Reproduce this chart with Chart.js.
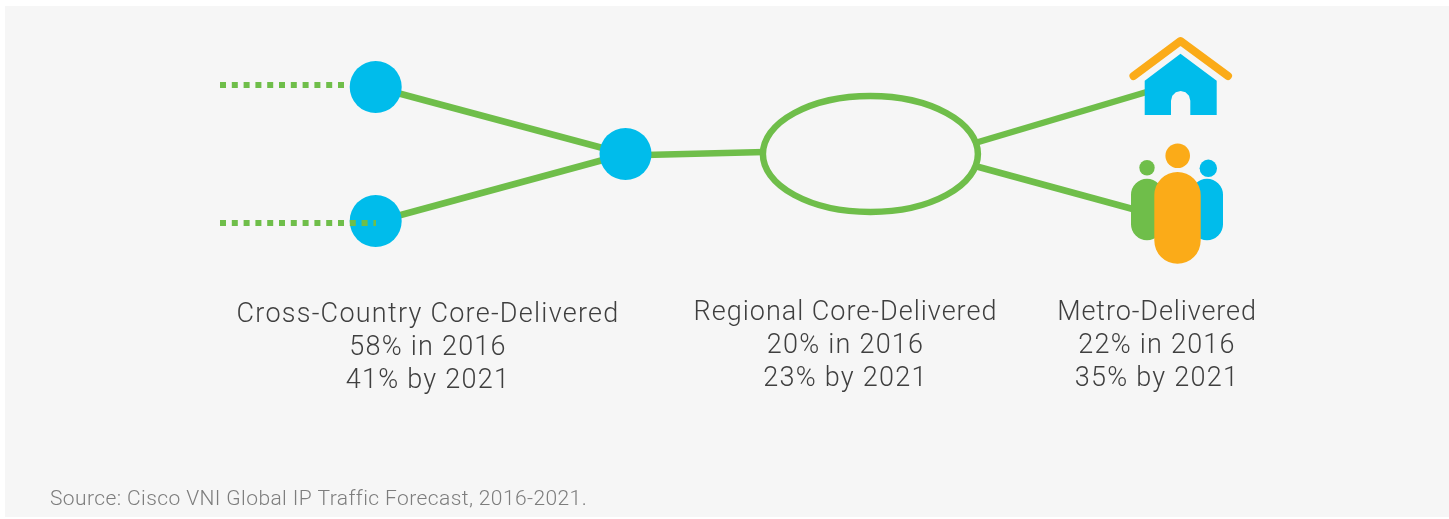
<!DOCTYPE html>
<html>
<head>
<meta charset="utf-8">
<title>Traffic delivery</title>
<script src="https://cdn.jsdelivr.net/npm/chart.js@4"></script>
<style>
html, body { margin: 0; padding: 0; background: #fff; }
#panel { position: absolute; left: 5px; top: 6px; width: 1444px; height: 511px; background: #f6f6f6; }
#wrap { position: absolute; left: 0; top: 0; width: 1449px; height: 519px; }
</style>
</head>
<body>
<div id="panel"></div>
<div id="wrap"><canvas id="diagram"></canvas></div>
<script>
// links between the nodes
const linkTop = [{x: 375, y: 87}, {x: 625, y: 154}];
const linkBottom = [{x: 375, y: 222}, {x: 625, y: 154}];
const linkRing = [{x: 625, y: 155.5}, {x: 765, y: 152}];
const linkHome = [{x: 975, y: 143}, {x: 1150, y: 91}];
const linkPeople = [{x: 975, y: 166}, {x: 1140, y: 211}];
const dottedTop = [{x: 220, y: 85}, {x: 346, y: 85}];
const dottedBottom = [{x: 220, y: 223}, {x: 376, y: 223}];
const nodes = [{x: 375.7, y: 87}, {x: 375.7, y: 221}, {x: 625.5, y: 154}];
const ringCentre = [{x: 870, y: 154}];

// house
const roof = [{x: 1133.5, y: 76}, {x: 1180.5, y: 41}, {x: 1228, y: 76}];
const house = [
    {x: 1144.7, y: 115}, {x: 1144.7, y: 80.7}, {x: 1180.5, y: 53.7}, {x: 1216.7, y: 80.7},
    {x: 1216.7, y: 115}, {x: 1190.3, y: 115}, {x: 1190.3, y: 100.7}, {x: 1189, y: 95.8},
    {x: 1185.5, y: 92.3}, {x: 1180.7, y: 91}, {x: 1175.8, y: 92.3}, {x: 1172.3, y: 95.8},
    {x: 1171, y: 100.7}, {x: 1171, y: 115}, {x: 1144.7, y: 115}
];

// people
const bodyGreen = [{x: 1147, y: 194.7}, {x: 1147, y: 224.3}];
const bodyBlue = [{x: 1207, y: 194.7}, {x: 1207, y: 224.3}];
const bodyOrange = [{x: 1177.5, y: 195.2}, {x: 1177.5, y: 240.5}];
const headGreen = [{x: 1147, y: 167.7}];
const headBlue = [{x: 1208.3, y: 168.3}];
const headOrange = [{x: 1177.7, y: 155.7}];

// texts
const crossCountry = ['Cross-Country Core-Delivered', '58% in 2016', '41% by 2021'];
const regional = ['Regional Core-Delivered', '20% in 2016', '23% by 2021'];
const metro = ['Metro-Delivered', '22% in 2016', '35% by 2021'];
const source = 'Source: Cisco VNI Global IP Traffic Forecast, 2016-2021.';

const GREEN = '#6fbe4a';
const BLUE = '#00bceb';
const ORANGE = '#fbab18';

const link = (data, width, color, extra) => Object.assign({
    data: data, showLine: true, borderColor: color, borderWidth: width, pointRadius: 0, fill: false
}, extra || {});

const dot = (data, radius, color, order) => ({
    data: data, showLine: false, pointRadius: radius, pointBackgroundColor: color, pointBorderWidth: 0, order: order
});

// ring marker, the library has no ellipse point style
const ringImage = document.createElement('canvas');
ringImage.width = 226;
ringImage.height = 126;
const rc = ringImage.getContext('2d');
rc.strokeStyle = GREEN;
rc.lineWidth = 6.5;
rc.beginPath();
rc.ellipse(113.4, 63, 107.5, 58, 0, 0, Math.PI * 2);
rc.stroke();

const textBlocks = {
    id: 'textBlocks',
    afterDatasetsDraw(chart) {
        const ctx = chart.ctx;
        const xs = chart.scales.x, ys = chart.scales.y;
        const block = (lines, x, y, titleSpacing) => {
            lines.forEach((s, i) => {
                ctx.letterSpacing = i == 0 ? titleSpacing : '1.25px';
                ctx.fillText(s, xs.getPixelForValue(x), ys.getPixelForValue(y + i * 33));
            });
        };
        ctx.save();
        ctx.textBaseline = 'alphabetic';
        ctx.textAlign = 'center';
        ctx.fillStyle = '#3f3f3f';
        ctx.font = '300 27px Roboto';
        block(crossCountry, 428, 322, '1.25px');
        block(regional, 845.5, 320, '1px');
        block(metro, 1157, 320, '0.9px');
        ctx.textAlign = 'left';
        ctx.fillStyle = '#7d7d7d';
        ctx.font = '300 21px Roboto';
        ctx.letterSpacing = '0.4px';
        ctx.fillText(source, xs.getPixelForValue(50), ys.getPixelForValue(505));
        ctx.restore();
    }
};

new Chart(document.getElementById('diagram'), {
    type: 'scatter',
    plugins: [textBlocks],
    data: {
        datasets: [
            link(linkTop, 6.5, GREEN, {order: 9}),
            link(linkBottom, 6.5, GREEN, {order: 9}),
            link(linkRing, 6.5, GREEN, {order: 9}),
            link(linkHome, 6.5, GREEN, {order: 9}),
            link(linkPeople, 6.5, GREEN, {order: 9}),
            dot(nodes, 26, BLUE, 8),
            link(dottedTop, 6, GREEN, {borderDash: [6, 5.8], order: 7}),
            link(dottedBottom, 6, GREEN, {borderDash: [6, 5.8], order: 7}),
            {data: ringCentre, showLine: false, pointStyle: ringImage, order: 7},
            link(house, 0, BLUE, {fill: 'shape', backgroundColor: BLUE, order: 6}),
            link(roof, 8, ORANGE, {borderCapStyle: 'round', borderJoinStyle: 'round', order: 6}),
            link(bodyGreen, 32, GREEN, {borderCapStyle: 'round', order: 5}),
            link(bodyBlue, 32, BLUE, {borderCapStyle: 'round', order: 5}),
            link(bodyOrange, 46.4, ORANGE, {borderCapStyle: 'round', order: 4}),
            dot(headGreen, 7.7, GREEN, 4),
            dot(headBlue, 8.7, BLUE, 4),
            dot(headOrange, 12.3, ORANGE, 4)
        ]
    },
    options: {
        responsive: true,
        maintainAspectRatio: false,
        animation: false,
        layout: {padding: 0, autoPadding: false},
        scales: {
            x: {type: 'linear', display: false, min: 0, max: 1449},
            y: {type: 'linear', display: false, min: 0, max: 519, reverse: true}
        },
        plugins: {
            legend: {display: false},
            title: {display: false},
            tooltip: {enabled: false}
        }
    }
});
</script>
</body>
</html>
